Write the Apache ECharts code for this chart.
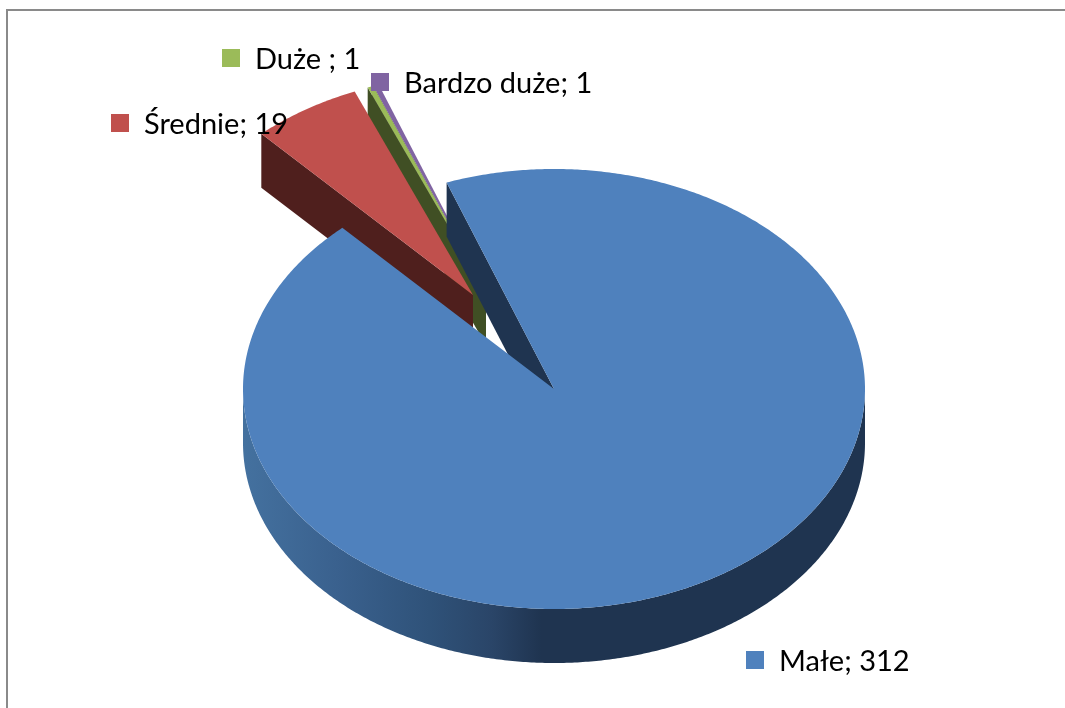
<!DOCTYPE html>
<html><head><meta charset="utf-8">
<style>html,body{margin:0;padding:0;background:#fff}#c{width:1065px;height:708px}</style>
<script src="https://cdn.jsdelivr.net/npm/echarts@6/dist/echarts.min.js"></script>
</head><body><div id="c"></div>
<script>
const categories = ["Małe", "Średnie", "Duże ", "Bardzo duże"];
const values = [312, 19, 1, 1];
const topColors = ["#4f81bd", "#c0504d", "#9bbb59", "#8064a2"];
const wallColors = ["#1f3450", "#4f1f1d", "#404f24", "#40325a"];

// layout of the tilted pie
const CX = 554, CY = 389, RX = 311, RY = 220, DEPTH = 54;
const START_DEG = -20.2;
// explosion of each slice, as screen offset of its apex
const OFFSETS = [[0, 0], [-81, -94], [-68, -98], [-69, -100]];
const KEY_POS = [[746, 651], [111, 114], [222, 49], [371, 73]];
const KEY = 18, KEY_GAP = 15, TEXT_DY = 2;

const total = values.reduce((a, b) => a + b, 0);
function angles(i) {
  let before = 0;
  for (let k = 0; k < i; k++) before += values[k];
  return [START_DEG + before / total * 360, START_DEG + (before + values[i]) / total * 360];
}
function pt(deg, ox, oy, dy) {
  const r = deg * Math.PI / 180;
  return [CX + ox + RX * Math.sin(r), CY + oy + dy - RY * Math.cos(r)];
}
function renderItem(params, api) {
  const i = params.dataIndex, v = api.value(0);
  const [a0, a1] = angles(i);
  const [ox, oy] = OFFSETS[i];
  const base = (categories.length - i) * 10;
  const kids = [];
  const arc = [];
  const n = Math.max(2, Math.ceil((a1 - a0) * 2));
  for (let s = 0; s <= n; s++) arc.push(a0 + (a1 - a0) * s / n);
  const apex = [CX + ox, CY + oy];
  const apexLow = [apex[0], apex[1] + DEPTH];

  // radial cut face along the slice's start angle
  kids.push({
    type: 'polygon', z2: base,
    shape: { points: [apex, pt(a0, ox, oy, 0), pt(a0, ox, oy, DEPTH), apexLow] },
    style: { fill: wallColors[i] }
  });
  // outer rim, only the front half of the pie
  if (i === 0) {
    const front = arc.filter(a => { const m = ((a % 360) + 360) % 360; return m >= 90 && m <= 270; });
    const pts = front.map(a => pt(a, 0, 0, 0)).concat(front.slice().reverse().map(a => pt(a, 0, 0, DEPTH)));
    kids.push({
      type: 'polygon', z2: base + 1, shape: { points: pts },
      style: {
        fill: {
          type: 'linear', x: CX - RX, y: 0, x2: CX + RX, y2: 0, global: true,
          colorStops: [
            { offset: 0, color: '#44719f' }, { offset: 0.15, color: '#3a618e' },
            { offset: 0.3, color: '#2f5279' }, { offset: 0.4, color: '#2a4568' },
            { offset: 0.48, color: '#1f3450' }, { offset: 1, color: '#1f3450' }
          ]
        }
      }
    });
  }
  // top face
  const top = [apex].concat(arc.map(a => pt(a, ox, oy, 0)));
  kids.push({ type: 'polygon', z2: base + 2, shape: { points: top }, style: { fill: topColors[i] } });
  // legend key + data label
  const [kx, ky] = KEY_POS[i];
  kids.push({ type: 'rect', z2: 200, shape: { x: kx, y: ky, width: KEY, height: KEY }, style: { fill: topColors[i] } });
  kids.push({
    type: 'text', z2: 201,
    style: {
      x: kx + KEY + KEY_GAP, y: ky + KEY / 2 + TEXT_DY, text: categories[i] + '; ' + v,
      fill: '#000', font: '29px Lato', textAlign: 'left', textVerticalAlign: 'middle'
    }
  });
  return { type: 'group', children: kids };
}
const chart = echarts.init(document.getElementById('c'), null, { renderer: 'canvas' });
chart.setOption({
  animation: false,
  backgroundColor: '#fff',
  graphic: [
    { type: 'line', shape: { x1: 6, y1: 10, x2: 1065, y2: 10 }, style: { stroke: '#8a8a8a', lineWidth: 2 } },
    { type: 'line', shape: { x1: 7, y1: 9, x2: 7, y2: 708 }, style: { stroke: '#8a8a8a', lineWidth: 2 } }
  ],
  series: [{
    type: 'custom', coordinateSystem: 'none', renderItem,
    data: values.map((v, i) => ({ name: categories[i], value: [v] })),
    silent: true, clip: false
  }]
});
</script></body></html>
